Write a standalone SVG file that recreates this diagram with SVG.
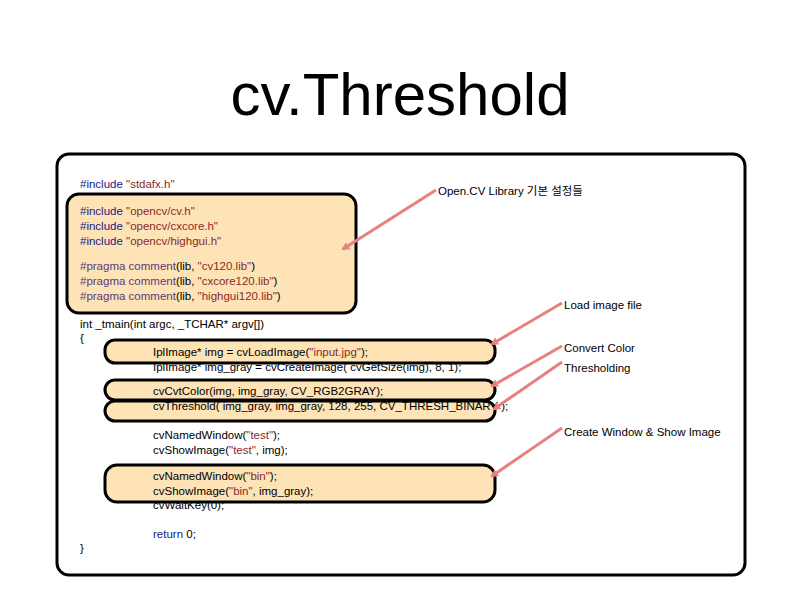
<svg xmlns="http://www.w3.org/2000/svg" width="800" height="600" viewBox="0 0 800 600">
<style>
text{font-family:"Liberation Sans","Noto Sans CJK KR",sans-serif;font-size:11.5px;fill:#000}
.t{font-family:"Liberation Sans",sans-serif;font-size:60px}
.k{fill:#1a1a80}.s{fill:#8a2a2a}.p{fill:#5a3a7a}
.hl{fill:#fde3b6;stroke:#000;stroke-width:3}
.ar{stroke:#e88080;stroke-width:3;fill:none;marker-end:url(#a)}
</style>
<defs><marker id="a" markerWidth="8" markerHeight="8" refX="6" refY="4" orient="auto" markerUnits="userSpaceOnUse"><path d="M0,0L8,4L0,8z" fill="#e88080"/></marker></defs>
<rect width="800" height="600" fill="#fff"/>
<text class="t" x="400" y="115" text-anchor="middle">cv.Threshold</text>
<rect x="57" y="154" width="688" height="421" rx="12" fill="#fff" stroke="#000" stroke-width="3"/>
<g id="n_header"><rect class="hl" x="67" y="194" width="289" height="119" rx="12"/></g>
<g id="n_load"><rect class="hl" x="105" y="340" width="390" height="23" rx="10"/></g>
<g id="n_cvt"><rect class="hl" x="105" y="380" width="390" height="20" rx="10"/></g>
<g id="n_thr"><rect class="hl" x="105" y="401" width="390" height="20" rx="10"/></g>
<g id="n_bin"><rect class="hl" x="105" y="465" width="390" height="37" rx="12"/></g>
<text x="80" y="188"><tspan class="k">#include</tspan> <tspan class="s">"stdafx.h"</tspan></text>
<text x="80" y="215"><tspan class="k">#include</tspan> <tspan class="s">"opencv/cv.h"</tspan></text>
<text x="80" y="230"><tspan class="k">#include</tspan> <tspan class="s">"opencv/cxcore.h"</tspan></text>
<text x="80" y="245"><tspan class="k">#include</tspan> <tspan class="s">"opencv/highgui.h"</tspan></text>
<text x="80" y="270"><tspan class="p">#pragma comment</tspan>(lib, <tspan class="s">"cv120.lib"</tspan>)</text>
<text x="80" y="285"><tspan class="p">#pragma comment</tspan>(lib, <tspan class="s">"cxcore120.lib"</tspan>)</text>
<text x="80" y="300"><tspan class="p">#pragma comment</tspan>(lib, <tspan class="s">"highgui120.lib"</tspan>)</text>
<text x="80" y="328">int _tmain(int argc, _TCHAR* argv[])</text>
<text x="80" y="342">{</text>
<text x="153" y="356">IplImage* img = cvLoadImage(<tspan class="s">"input.jpg"</tspan>);</text>
<text x="153" y="371">IplImage* img_gray = cvCreateImage( cvGetSize(img), 8, 1);</text>
<text x="153" y="395">cvCvtColor(img, img_gray, CV_RGB2GRAY);</text>
<text x="153" y="410">cvThreshold( img_gray, img_gray, 128, 255, CV_THRESH_BINARY );</text>
<text x="153" y="439">cvNamedWindow(<tspan class="s">"test"</tspan>);</text>
<text x="153" y="454">cvShowImage(<tspan class="s">"test"</tspan>, img);</text>
<text x="153" y="480">cvNamedWindow(<tspan class="s">"bin"</tspan>);</text>
<text x="153" y="495">cvShowImage(<tspan class="s">"bin"</tspan>, img_gray);</text>
<text x="153" y="509">cvWaitKey(0);</text>
<text x="153" y="538"><tspan class="k">return</tspan> 0;</text>
<text x="80" y="552">}</text>
<text x="438" y="195" font-size="11">Open.CV Library 기본 설정들</text>
<text x="564" y="309" font-size="11">Load image file</text>
<text x="564" y="352" font-size="11">Convert Color</text>
<text x="564" y="372" font-size="11">Thresholding</text>
<text x="564" y="436" font-size="11">Create Window &amp; Show Image</text>
<g id="connectors">
<line class="ar" x1="436" y1="190" x2="343" y2="249"/>
<line class="ar" x1="562" y1="303" x2="492" y2="344"/>
<line class="ar" x1="562" y1="346" x2="492" y2="386"/>
<line class="ar" x1="562" y1="362" x2="494" y2="409"/>
<line class="ar" x1="562" y1="428" x2="492" y2="476"/>
</g>
</svg>
